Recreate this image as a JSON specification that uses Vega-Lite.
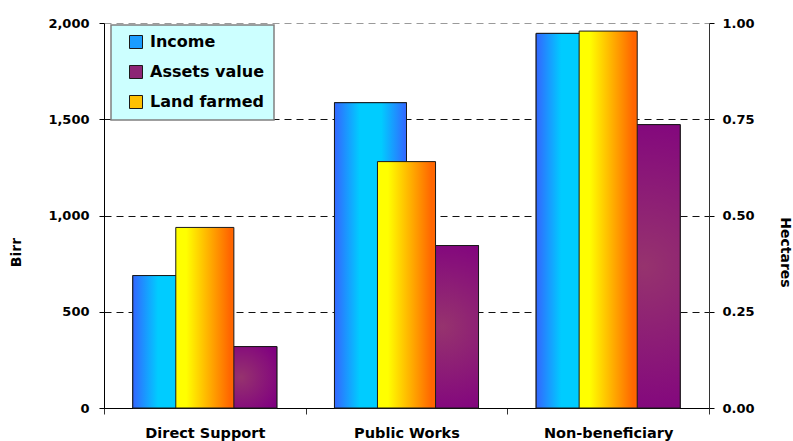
{
  "$schema": "https://vega.github.io/schema/vega-lite/v6.json",
  "width": 605,
  "height": 385,
  "autosize": {"type": "none"},
  "padding": {"left": 104, "top": 23, "right": 84, "bottom": 33},
  "background": "white",
  "config": {
    "view": {"stroke": null},
    "font": "DejaVu Sans",
    "axis": {
      "labelFont": "DejaVu Sans",
      "labelFontWeight": "bold",
      "labelColor": "#000000",
      "titleFont": "DejaVu Sans",
      "titleFontWeight": "bold",
      "titleColor": "#000000",
      "titleFontSize": 14,
      "domainColor": "#000000",
      "tickColor": "#000000"
    },
    "legend": {
      "orient": "none",
      "legendX": 7,
      "legendY": 2,
      "fillColor": "#CCFFFF",
      "strokeColor": "#808080",
      "strokeWidth": 1.5,
      "padding": 9,
      "symbolType": "square",
      "symbolSize": 169,
      "symbolStrokeColor": "#1a1a1a",
      "symbolStrokeWidth": 1,
      "symbolOpacity": 1,
      "symbolOffset": 8,
      "labelOffset": 6,
      "labelFont": "DejaVu Sans",
      "labelFontWeight": "bold",
      "labelFontSize": 16,
      "labelColor": "#000000",
      "rowPadding": 12
    }
  },
  "data": {
    "values": [
      {"group": "Direct Support", "series": "Income", "value": 688},
      {"group": "Direct Support", "series": "Assets value", "value": 319},
      {"group": "Direct Support", "series": "Land farmed", "value": 0.469},
      {"group": "Public Works", "series": "Income", "value": 1586},
      {"group": "Public Works", "series": "Assets value", "value": 844},
      {"group": "Public Works", "series": "Land farmed", "value": 0.64},
      {"group": "Non-beneficiary", "series": "Income", "value": 1946},
      {"group": "Non-beneficiary", "series": "Assets value", "value": 1472},
      {"group": "Non-beneficiary", "series": "Land farmed", "value": 0.979}
    ]
  },
  "encoding": {
    "x": {
      "field": "group",
      "type": "nominal",
      "sort": ["Direct Support", "Public Works", "Non-beneficiary"],
      "scale": {"paddingInner": 0, "paddingOuter": 0},
      "axis": {
        "title": null,
        "labelAngle": 0,
        "labelFontSize": 14.5,
        "labelPadding": 12,
        "tickBand": "extent",
        "tickSize": 6,
        "tickColor": "#333333",
        "domainColor": "#000000"
      }
    }
  },
  "layer": [
    {
      "encoding": {
        "y": {
          "field": "value",
          "type": "quantitative",
          "stack": null,
          "scale": {"domain": [0, 2000], "nice": false},
          "axis": {
            "orient": "left",
            "title": "Birr",
            "titleX": -81,
            "titleY": 229,
            "values": [0, 500, 1000, 1500, 2000],
            "format": ",d",
            "labelFontSize": 13,
            "labelPadding": 10,
            "tickSize": 5,
            "grid": true,
            "gridDash": [7, 5],
            "gridColor": {"condition": {"test": "datum.value === 2000", "value": "#9a9a9a"}, "value": "#111111"},
            "gridWidth": 1
          }
        },
        "xOffset": {
          "field": "series",
          "type": "nominal",
          "scale": {"domain": ["Income", "Assets value"], "paddingInner": 0, "paddingOuter": 0.4}
        }
      },
      "layer": [
        {
          "transform": [{"filter": "datum.series !== 'Land farmed'"}],
          "mark": {"type": "bar", "stroke": "#1a1a1a", "strokeWidth": 1},
          "encoding": {
            "color": {
              "field": "series",
              "type": "nominal",
              "scale": {
                "domain": ["Income", "Assets value", "Land farmed"],
                "range": ["#1A9CFF", "#8C2475", "#FFC000"]
              },
              "legend": {"title": null}
            }
          }
        },
        {
          "transform": [{"filter": "datum.series === 'Income'"}],
          "mark": {
            "type": "bar",
            "stroke": "#1a1a1a",
            "strokeWidth": 1,
            "fill": {
              "gradient": "linear", "x1": 0, "y1": 0, "x2": 1, "y2": 0,
              "stops": [
                {"offset": 0, "color": "#3366FF"},
                {"offset": 0.35, "color": "#00CCFF"},
                {"offset": 0.65, "color": "#00CCFF"},
                {"offset": 1, "color": "#3366FF"}
              ]
            }
          }
        },
        {
          "transform": [{"filter": "datum.series === 'Assets value'"}],
          "mark": {
            "type": "bar",
            "stroke": "#1a1a1a",
            "strokeWidth": 1,
            "fill": {
              "gradient": "radial", "x1": 0.5, "y1": 0.5, "r1": 0, "x2": 0.5, "y2": 0.5, "r2": 0.6,
              "stops": [
                {"offset": 0, "color": "#96336E"},
                {"offset": 1, "color": "#800080"}
              ]
            }
          }
        }
      ]
    },
    {
      "transform": [{"filter": "datum.series === 'Land farmed'"}],
      "mark": {
        "type": "bar",
        "width": {"band": 0.288},
        "stroke": "#1a1a1a",
        "strokeWidth": 1,
        "fill": {
          "gradient": "linear", "x1": 0, "y1": 0, "x2": 1, "y2": 0,
          "stops": [
            {"offset": 0, "color": "#FFFF00"},
            {"offset": 0.18, "color": "#FFFF00"},
            {"offset": 0.93, "color": "#FF6600"},
            {"offset": 1, "color": "#FF6600"}
          ]
        }
      },
      "encoding": {
        "y": {
          "field": "value",
          "type": "quantitative",
          "scale": {"domain": [0, 1], "nice": false},
          "axis": {
            "orient": "right",
            "title": "Hectares",
            "titleX": 68,
            "titleY": 229,
            "values": [0, 0.25, 0.5, 0.75, 1],
            "format": ".2f",
            "labelFontSize": 13,
            "labelPadding": 8,
            "tickSize": 5,
            "domainColor": "#333333",
            "grid": false
          }
        }
      }
    }
  ],
  "resolve": {"scale": {"y": "independent"}}
}
